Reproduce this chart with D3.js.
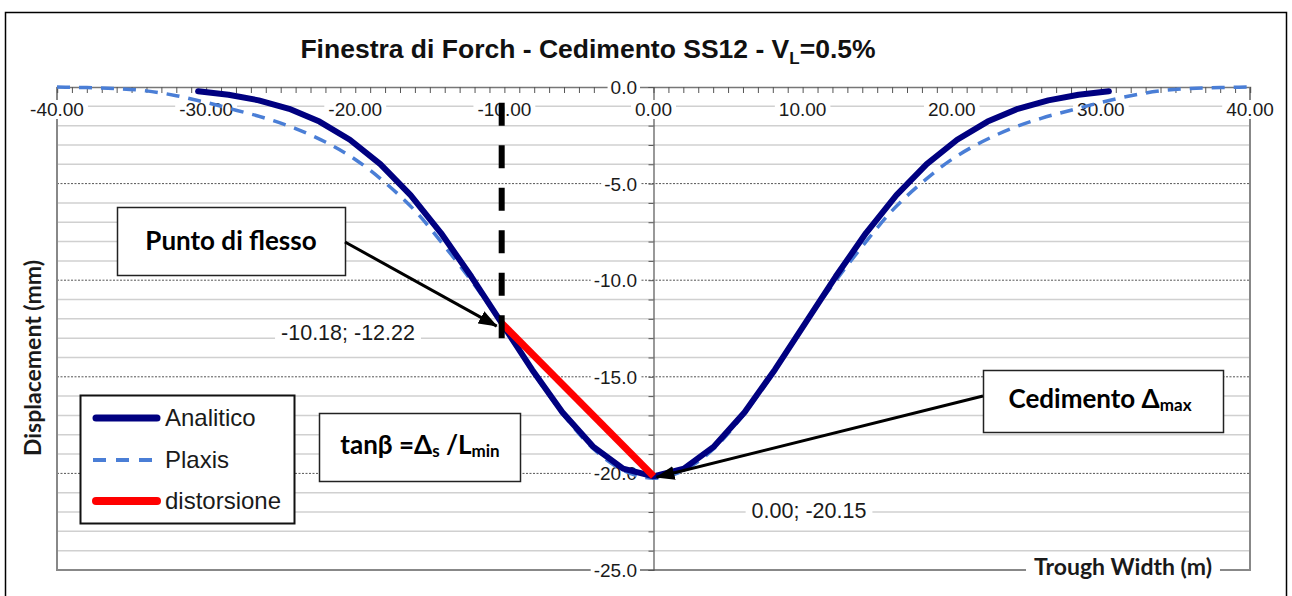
<!DOCTYPE html>
<html>
<head>
<meta charset="utf-8">
<script src="https://cdn.jsdelivr.net/npm/d3@7"></script>
<style>
body { margin: 0; background: #fff; }
svg { display: block; }
</style>
</head>
<body>
<svg width="1292" height="596"></svg>
<script>
// analytic (gaussian) trough
var analiticoX = [-30.54, -28.50, -26.47, -24.43, -22.40, -20.36, -18.32, -16.29, -14.25, -12.22, -10.18, -8.14, -6.11, -4.07, -2.04, 0.00,
	2.04, 4.07, 6.11, 8.14, 10.18, 12.22, 14.25, 16.29, 18.32, 20.36, 22.40, 24.43, 26.47, 28.50, 30.54];
var analiticoY = [-0.22, -0.40, -0.69, -1.13, -1.79, -2.73, -3.99, -5.60, -7.56, -9.81, -12.22, -14.63, -16.83, -18.60, -19.75, -20.15,
	-19.75, -18.60, -16.83, -14.63, -12.22, -9.81, -7.56, -5.60, -3.99, -2.73, -1.79, -1.13, -0.69, -0.40, -0.22];

var plaxisX = [-40, -38, -36, -34, -32, -30, -28, -26, -24, -22, -20, -18, -16, -14, -12, -10, -8, -6, -4, -2, 0,
	2, 4, 6, 8, 10, 12, 14, 16, 18, 20, 22, 24, 26, 28, 30, 32, 34, 36, 38, 40];
var plaxisY = [0.00, -0.03, -0.08, -0.20, -0.45, -0.80, -1.20, -1.62, -2.15, -2.85, -3.75, -4.95, -6.40, -8.25, -10.25, -12.45, -14.85, -17.00, -18.75, -19.85, -20.25,
	-19.85, -18.75, -17.00, -14.85, -12.45, -10.25, -8.25, -6.40, -4.95, -3.75, -2.85, -2.15, -1.62, -1.20, -0.80, -0.45, -0.20, -0.08, -0.03, 0.00];

var distorsioneX = [-10.18, 0.00];
var distorsioneY = [-12.22, -20.15];

var flessoX = [-10.18, -10.18];
var flessoY = [-13.0, 0.0];

var xTicks = [-40, -30, -20, -10, 0, 10, 20, 30, 40];
var yTicks = [0, -5, -10, -15, -20, -25];
var legendNames = ["Analitico", "Plaxis", "distorsione"];

var svg = d3.select("svg");
var arial = "'Liberation Sans', Arial, sans-serif";
var calibri = "Lato, 'Noto Sans', sans-serif";

var x = d3.scaleLinear().domain([-40, 40]).range([57, 1250]);
var y = d3.scaleLinear().domain([0, -25]).range([87, 570]);

var defs = svg.append("defs");
defs.append("marker")
	.attr("id", "arrow")
	.attr("markerUnits", "userSpaceOnUse")
	.attr("markerWidth", 20).attr("markerHeight", 14)
	.attr("refX", 18).attr("refY", 7)
	.attr("orient", "auto")
	.append("path")
	.attr("d", "M0,0 L19,7 L0,14 Z")
	.attr("fill", "#000");

// outer chart frame
svg.append("rect")
	.attr("x", 5.5).attr("y", 12.5)
	.attr("width", 1281).attr("height", 600)
	.attr("fill", "#fff")
	.attr("stroke", "#000")
	.attr("stroke-width", 1.5);

// title
var title = svg.append("text")
	.attr("x", 588).attr("y", 58)
	.attr("text-anchor", "middle")
	.attr("font-family", arial)
	.attr("font-weight", "bold")
	.attr("font-size", 26.5)
	.attr("fill", "#111");
title.append("tspan").text("Finestra di Forch - Cedimento SS12 - V");
title.append("tspan").attr("font-size", 17).attr("dy", 6).text("L");
title.append("tspan").attr("dy", -6).text("=0.5%");

// grid
var grid = svg.append("g");
var minor = d3.range(-1, -25, -1).filter(function (d) { return d % 5 !== 0; });
grid.selectAll(".minor")
	.data(minor)
	.enter()
	.append("line")
	.attr("x1", x(-40)).attr("x2", x(40))
	.attr("y1", function (d) { return y(d); })
	.attr("y2", function (d) { return y(d); })
	.attr("stroke", "#d0d0d0")
	.attr("stroke-width", 1.5);
grid.selectAll(".major")
	.data([-5, -10, -15, -20])
	.enter()
	.append("line")
	.attr("x1", x(-40)).attr("x2", x(40))
	.attr("y1", function (d) { return y(d); })
	.attr("y2", function (d) { return y(d); })
	.attr("stroke", "#555")
	.attr("stroke-width", 1)
	.attr("stroke-dasharray", "2,1.5");

// plot border (left, right, bottom)
svg.append("path")
	.attr("d", "M" + x(-40) + "," + y(0) + "V" + y(-25) + "H" + x(40) + "V" + y(0))
	.attr("fill", "none")
	.attr("stroke", "#888")
	.attr("stroke-width", 2);

// x axis on top (y = 0)
var xAxis = d3.axisBottom(x)
	.tickValues(d3.range(-40, 41, 1))
	.tickSize(6)
	.tickFormat("");
svg.append("g")
	.attr("transform", "translate(0," + y(0) + ")")
	.call(xAxis)
	.call(function (g) {
		g.select(".domain").attr("stroke", "#777").attr("stroke-width", 1.5);
		g.selectAll(".tick line").attr("stroke", "#555");
	});

// y axis at x = 0
var yAxis = d3.axisLeft(y)
	.tickValues(d3.range(0, -26, -1))
	.tickSize(5)
	.tickFormat("");
svg.append("g")
	.attr("transform", "translate(" + x(0) + ",0)")
	.call(yAxis)
	.call(function (g) {
		g.select(".domain").attr("stroke", "#555").attr("stroke-width", 1.2);
		g.selectAll(".tick line").attr("stroke", "#555");
	});

// text on a white patch
function boxedText(px, py, str, anchor, size, family, weight, pad) {
	var g = svg.append("g");
	var r = g.append("rect").attr("fill", "#fff");
	var t = g.append("text")
		.attr("x", px).attr("y", py)
		.attr("text-anchor", anchor)
		.attr("font-family", family)
		.attr("font-size", size)
		.attr("font-weight", weight || "normal")
		.attr("fill", "#1a1a1a")
		.text(str);
	var b = t.node().getBBox();
	r.attr("x", b.x - pad).attr("y", b.y + 1)
		.attr("width", b.width + 2 * pad).attr("height", b.height - 2);
	return g;
}

xTicks.forEach(function (d) {
	boxedText(x(d), 116, d.toFixed(2), "middle", 19, arial, "normal", 4);
});
yTicks.forEach(function (d) {
	boxedText(637, y(d) + 7, d.toFixed(1), "end", 19, arial, "normal", 3);
});

// axis titles
boxedText(1123, 575, "Trough Width (m)", "middle", 23, calibri, "bold", 8);
svg.append("text")
	.attr("transform", "translate(41,358) rotate(-90)")
	.attr("text-anchor", "middle")
	.attr("font-family", calibri)
	.attr("font-weight", "bold")
	.attr("font-size", 23)
	.attr("fill", "#1a1a1a")
	.text("Displacement (mm)");

// series
var line = d3.line()
	.x(function (d) { return x(d[0]); })
	.y(function (d) { return y(d[1]); });

svg.append("path")
	.datum(d3.zip(plaxisX, plaxisY))
	.attr("d", line.curve(d3.curveMonotoneX))
	.attr("fill", "none")
	.attr("stroke", "#4a7ed6")
	.attr("stroke-width", 3.5)
	.attr("stroke-dasharray", "13,9");

svg.append("path")
	.datum(d3.zip(analiticoX, analiticoY))
	.attr("d", line.curve(d3.curveLinear))
	.attr("fill", "none")
	.attr("stroke", "#000080")
	.attr("stroke-width", 6)
	.attr("stroke-linejoin", "round")
	.attr("stroke-linecap", "round");

svg.append("path")
	.datum(d3.zip(distorsioneX, distorsioneY))
	.attr("d", line)
	.attr("fill", "none")
	.attr("stroke", "#ff0000")
	.attr("stroke-width", 7);

svg.append("path")
	.datum(d3.zip(flessoX, flessoY))
	.attr("d", line)
	.attr("fill", "none")
	.attr("stroke", "#000")
	.attr("stroke-width", 6)
	.attr("stroke-dasharray", "23,19.5");

// point labels
boxedText(348, 340, distorsioneX[0].toFixed(2) + "; " + distorsioneY[0].toFixed(2), "middle", 21.5, arial, "normal", 6);
boxedText(809, 518, distorsioneX[1].toFixed(2) + "; " + distorsioneY[1].toFixed(2), "middle", 21.5, arial, "normal", 6);

// callout boxes
function callout(bx, by, bw, bh) {
	return svg.append("rect")
		.attr("x", bx).attr("y", by)
		.attr("width", bw).attr("height", bh)
		.attr("fill", "#fff")
		.attr("stroke", "#222")
		.attr("stroke-width", 1.5);
}
function calloutText(px, py) {
	return svg.append("text")
		.attr("x", px).attr("y", py)
		.attr("text-anchor", "middle")
		.attr("font-family", calibri)
		.attr("font-weight", "bold")
		.attr("font-size", 26)
		.attr("fill", "#000");
}

callout(117.5, 207.5, 228, 68);
calloutText(231, 250).text("Punto di flesso");

callout(319.5, 413.5, 201, 68);
var tb = calloutText(420, 454);
tb.append("tspan").text("tan\u03b2 =\u0394");
tb.append("tspan").attr("font-size", 17).attr("dy", 3).text("s");
tb.append("tspan").attr("dy", -3).text(" /L");
tb.append("tspan").attr("font-size", 17).attr("dy", 3).text("min");

callout(983.5, 370.5, 240, 62);
var cb = calloutText(1100, 408);
cb.append("tspan").text("Cedimento \u0394");
cb.append("tspan").attr("font-size", 17).attr("dy", 3).text("max");

// arrows
svg.append("line")
	.attr("x1", 345).attr("y1", 242)
	.attr("x2", x(distorsioneX[0]) - 5).attr("y2", y(distorsioneY[0]) + 3)
	.attr("stroke", "#000").attr("stroke-width", 3)
	.attr("marker-end", "url(#arrow)");
svg.append("line")
	.attr("x1", 983).attr("y1", 396)
	.attr("x2", x(distorsioneX[1]) + 3).attr("y2", y(distorsioneY[1]) + 1)
	.attr("stroke", "#000").attr("stroke-width", 3)
	.attr("marker-end", "url(#arrow)");

// legend
var leg = svg.append("g");
leg.append("rect")
	.attr("x", 80.5).attr("y", 395.5)
	.attr("width", 214).attr("height", 128)
	.attr("fill", "#fff")
	.attr("stroke", "#111")
	.attr("stroke-width", 2);
var legStyles = [
	{ c: "#000080", w: 7, dash: null },
	{ c: "#4a7ed6", w: 4, dash: "13,10" },
	{ c: "#ff0000", w: 8, dash: null }
];
var legRows = leg.selectAll(".row")
	.data(legendNames)
	.enter()
	.append("g")
	.attr("transform", function (d, i) { return "translate(0," + [418, 460, 501][i] + ")"; });
legRows.append("line")
	.attr("x1", function (d, i) { return i === 1 ? 93 : 96; })
	.attr("x2", function (d, i) { return i === 1 ? 160 : 157; })
	.attr("stroke", function (d, i) { return legStyles[i].c; })
	.attr("stroke-width", function (d, i) { return legStyles[i].w; })
	.attr("stroke-linecap", function (d, i) { return i === 1 ? "butt" : "round"; })
	.attr("stroke-dasharray", function (d, i) { return legStyles[i].dash; });
legRows.append("text")
	.attr("x", 165).attr("y", 8)
	.attr("font-family", arial)
	.attr("font-size", 24)
	.attr("fill", "#1a1a1a")
	.text(function (d) { return d; });
</script>
</body>
</html>
